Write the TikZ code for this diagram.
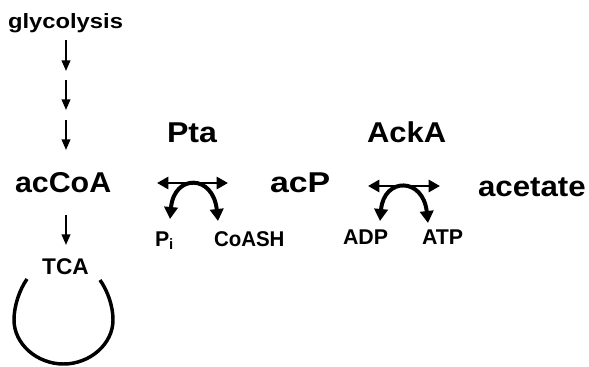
\documentclass[tikz,border=0pt]{standalone}
\usepackage{graphicx}
\usepackage{fontspec}
\setmainfont{Liberation Sans}
\usetikzlibrary{arrows.meta}
\newcommand\xsc[2]{\scalebox{#1}[1]{#2}}
\begin{document}
\begin{tikzpicture}[x=0.75pt,y=-0.75pt,
  lbl/.style={inner sep=0pt, outer sep=0pt},
  bigtext/.style={lbl, font=\fontsize{21.5}{25}\selectfont\bfseries},
  midtext/.style={lbl, font=\fontsize{15.5}{18}\selectfont\bfseries},
  smalltext/.style={lbl, font=\fontsize{16}{19}\selectfont\bfseries},
  thinarrow/.style={line width=1.3pt, -{Triangle[length=8pt,width=6.5pt]}},
  dblarrow/.style={line width=2.2pt, {Triangle[length=8.5pt,width=9pt]}-{Triangle[length=8.5pt,width=9pt]}},
  curlarrow/.style={line width=3pt, {Triangle[length=9pt,width=10pt]}-{Triangle[length=9pt,width=10pt]}},
  cycle line/.style={line width=2.6pt}
]
\useasboundingbox (0,0) rectangle (589,367);

% text nodes
\node[midtext, anchor=base] (glyc) at (65.5,29) {\xsc{1.15}{glycolysis}};
\node[bigtext, anchor=base west] (accoa) at (15,193) {\xsc{1.06}{acCoA}};
\node[bigtext, anchor=base west] (pta) at (167,143) {\xsc{1.12}{Pta}};
\node[bigtext, anchor=base west] (acp) at (270,193) {\xsc{1.18}{acP}};
\node[bigtext, anchor=base west] (acka) at (367,143) {\xsc{1.08}{AckA}};
\node[bigtext, anchor=base west] (acet) at (478,197) {\xsc{1.09}{acetate}};
\node[smalltext, anchor=base west] (pi) at (155,246) {P\textsubscript{i}};
\node[smalltext, anchor=base west] (coash) at (214,246) {\xsc{0.96}{CoASH}};
\node[smalltext, anchor=base west] (adp) at (343,244) {ADP};
\node[smalltext, anchor=base west] (atp) at (422,244) {ATP};
\node[smalltext, anchor=base] (tca) at (65.5,274) {\fontsize{17}{20}\selectfont TCA};

% vertical pathway arrows
\coordinate (v1a) at (66,40);  \coordinate (v1b) at (66,71);
\coordinate (v2a) at (66,80);  \coordinate (v2b) at (66,110);
\coordinate (v3a) at (66,120); \coordinate (v3b) at (66,150);
\coordinate (v4a) at (66,215); \coordinate (v4b) at (66,245);
\draw[thinarrow] (v1a) -- (v1b);
\draw[thinarrow] (v2a) -- (v2b);
\draw[thinarrow] (v3a) -- (v3b);
\draw[thinarrow] (v4a) -- (v4b);

% Pta reaction
\coordinate (ptaL) at (157,183); \coordinate (ptaR) at (228,183);
\coordinate (ptaA) at (170,219); \coordinate (ptaB) at (218,221);
\draw[dblarrow] (ptaL) -- (ptaR);
\draw[curlarrow] (ptaA) .. controls (174,174) and (213,174) .. (ptaB);

% AckA reaction
\coordinate (ackL) at (368,186); \coordinate (ackR) at (440,186);
\coordinate (ackA) at (380,221); \coordinate (ackB) at (428,223);
\draw[dblarrow] (ackL) -- (ackR);
\draw[curlarrow] (ackA) .. controls (384,177) and (423,177) .. (ackB);

% TCA cycle
\coordinate (cyc1) at (27,279);
\coordinate (cyc2) at (100,280);
\draw[cycle line] (cyc1) .. controls (20,289) and (14,305) .. (14,320)
  .. controls (14,344) and (37,364) .. (63.5,364)
  .. controls (90,364) and (113,344) .. (113,320)
  .. controls (113,305) and (107,290) .. (cyc2);
\end{tikzpicture}
\end{document}
